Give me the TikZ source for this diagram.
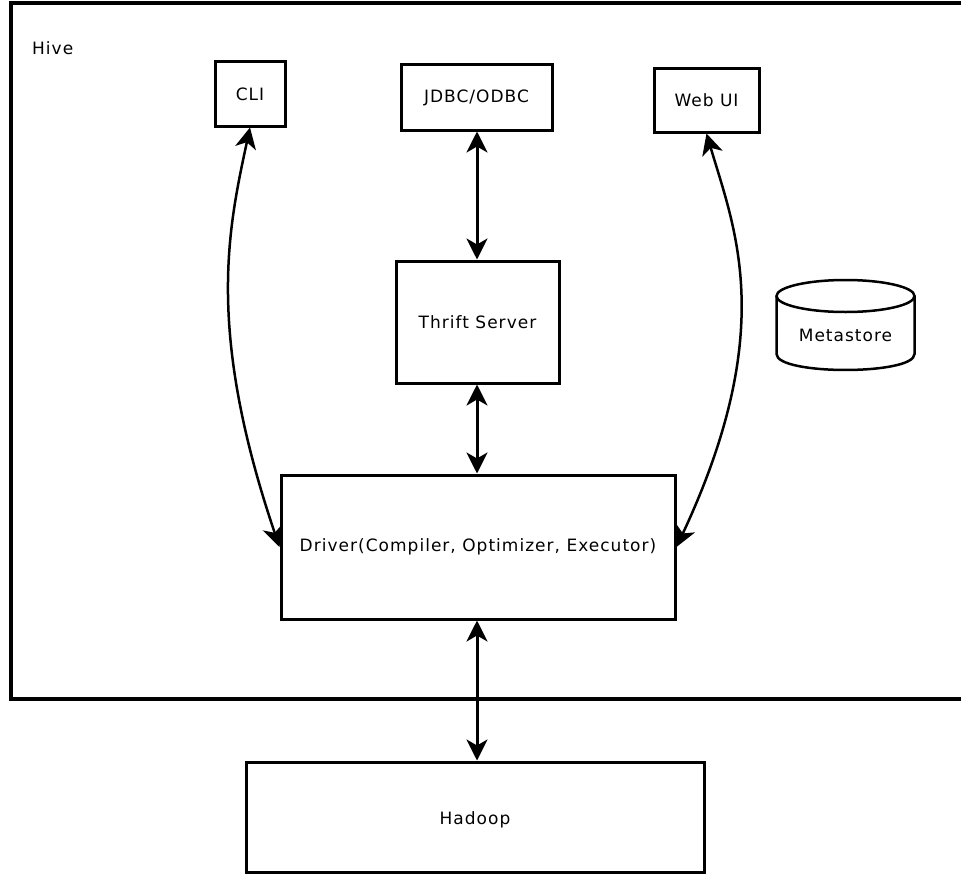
\documentclass[tikz,border=0pt]{standalone}
\usepackage{fontspec}
\setmainfont{DejaVu Sans}[LetterSpace=6]
\usetikzlibrary{arrows.meta}
\begin{document}
\begin{tikzpicture}[x=1pt,y=-1pt,
  font=\fontsize{17}{20}\selectfont,
  box/.style={draw, line width=3pt, inner sep=0pt},
  tip/.tip={Stealth[length=21pt,width=21pt,inset=6pt]},
  dbl/.style={{tip}-{tip}, line width=3pt},
  curv/.style={{tip}-{tip}, line width=2.5pt}]
\useasboundingbox (0,0) rectangle (961,875);
% Hive frame
\draw[line width=3.5pt] (975,3) -- (11,3) -- (11,699) -- (975,699);
\node[anchor=west, inner sep=0pt] (hive) at (32,48) {Hive};
% boxes
\node[box, minimum width=70pt, minimum height=64pt] (cli) at (250,94) {CLI};
\node[box, minimum width=151pt, minimum height=65pt] (jdbc) at (476.5,97.5) {JDBC/ODBC};
\node[box, minimum width=105pt, minimum height=63pt] (webui) at (706.5,100.5) {Web UI};
\node[box, minimum width=163pt, minimum height=122pt] (thrift) at (477.5,322) {Thrift Server};
\node[box, minimum width=394pt, minimum height=144pt] (driver) at (478,547) {Driver(Compiler, Optimizer, Executor)};
\node[box, minimum width=458pt, minimum height=110pt, text height=18pt] (hadoop) at (475,817) {Hadoop};
% metastore cylinder
\draw[line width=2.5pt] (845.5,296) ellipse[x radius=69, y radius=16];
\draw[line width=2.5pt] (776.5,296) -- (776.5,354) .. controls (776.5,375.3) and (914.5,375.3) .. (914.5,354) -- (914.5,296);
\node[inner sep=0pt] (metastore) at (845.5,335) {Metastore};
% connectors
\draw[dbl] (jdbc.south -| 477,0) -- (thrift.north -| 477,0);
\draw[dbl] (thrift.south -| 477,0) -- (driver.north -| 477,0);
\draw[dbl] (driver.south -| 477,0) -- (hadoop.north -| 477,0);
\draw[curv] (cli.south) .. controls (228,230) and (206,330) .. (driver.west);
\draw[curv] (webui.south) .. controls (735,230) and (778,330) .. (driver.east);
\end{tikzpicture}
\end{document}
